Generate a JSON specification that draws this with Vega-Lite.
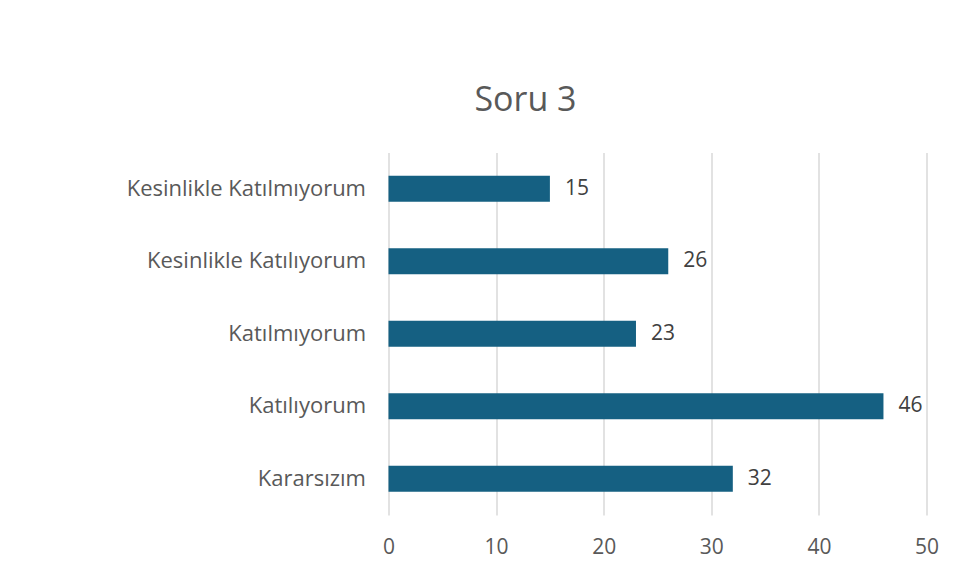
{
  "$schema": "https://vega.github.io/schema/vega-lite/v6.json",
  "autosize": "none",
  "width": 538,
  "height": 362.5,
  "padding": {"left": 388.5, "top": 152.5, "right": 31.5, "bottom": 64},
  "background": "white",
  "config": {
    "view": {"stroke": null},
    "font": "Open Sans"
  },
  "title": {
    "text": "Soru 3",
    "fontSize": 34,
    "fontWeight": "normal",
    "color": "#595959",
    "font": "Open Sans",
    "anchor": "middle",
    "dx": -132,
    "offset": 35
  },
  "data": {
    "values": [
      {"cevap": "Kesinlikle Katılmıyorum", "sayi": 15},
      {"cevap": "Kesinlikle Katılıyorum", "sayi": 26},
      {"cevap": "Katılmıyorum", "sayi": 23},
      {"cevap": "Katılıyorum", "sayi": 46},
      {"cevap": "Kararsızım", "sayi": 32}
    ]
  },
  "encoding": {
    "y": {
      "field": "cevap",
      "type": "nominal",
      "sort": null,
      "scale": {"paddingInner": 0.64, "paddingOuter": 0.32},
      "axis": {
        "title": null,
        "domain": false,
        "ticks": false,
        "grid": false,
        "labelPadding": 23,
        "labelFontSize": 22,
        "labelColor": "#595959",
        "labelFont": "Open Sans",
        "labelLimit": 400
      }
    },
    "x": {
      "field": "sayi",
      "type": "quantitative",
      "scale": {"domain": [0, 50], "nice": false},
      "axis": {
        "title": null,
        "values": [0, 10, 20, 30, 40, 50],
        "domain": false,
        "ticks": false,
        "grid": true,
        "gridColor": "#d9d9d9",
        "gridWidth": 1.5,
        "labelFlush": false,
        "labelPadding": 21,
        "labelFontSize": 21,
        "labelColor": "#595959",
        "labelFont": "Open Sans"
      }
    }
  },
  "layer": [
    {"mark": {"type": "bar", "color": "#156082"}},
    {
      "mark": {"type": "text", "align": "left", "dx": 15, "fontSize": 21, "color": "#404040", "font": "Open Sans"},
      "encoding": {"text": {"field": "sayi", "type": "quantitative"}}
    }
  ]
}
